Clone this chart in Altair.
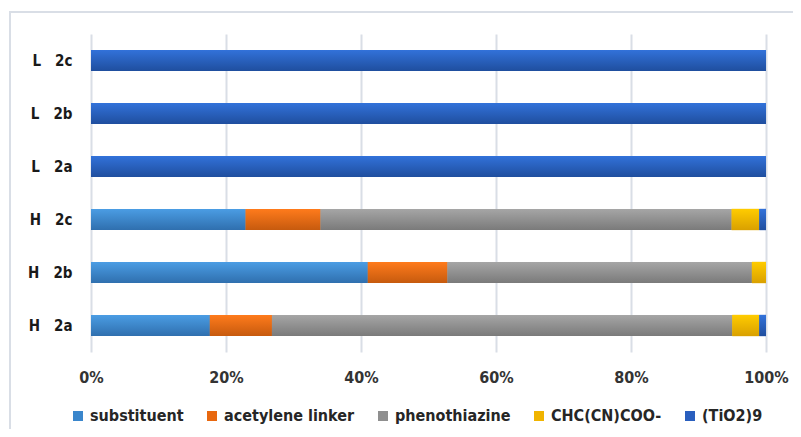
import altair as alt
import pandas as pd

NB = "\u00a0"
categories = [f"L{NB*3}2c", f"L{NB*3}2b", f"L{NB*3}2a", f"H{NB*3}2c", f"H{NB*3}2b", f"H{NB*3}2a"]
series = ["substituent", "acetylene linker", "phenothiazine", "CHC(CN)COO-", "(TiO2)9"]

substituent = [0, 0, 0, 22.9, 41.0, 17.6]
acetylene = [0, 0, 0, 11.1, 11.8, 9.2]
phenothiazine = [0, 0, 0, 60.9, 45.1, 68.2]
chc = [0, 0, 0, 4.1, 2.1, 4.0]
tio2 = [100, 100, 100, 1.0, 0, 1.0]

flat_colors = ["#3A86CC", "#E8680F", "#8F8F8F", "#F0B400", "#2A5FBE"]
grad_top = ["#4B9DE4", "#FF7B1C", "#A6A6A6", "#FFCC00", "#3272DA"]
grad_bot = ["#2F6FAE", "#C65A0E", "#7A7A7A", "#D9A000", "#1F4E9E"]

rows = []
for vals, s, o in zip([substituent, acetylene, phenothiazine, chc, tio2], series, range(5)):
    for c, v in zip(categories, vals):
        rows.append({"cat": c, "series": s, "order": o, "value": v})
df = pd.DataFrame(rows)

FONT = "DejaVu Sans Condensed"

x_enc = alt.X(
    "x0:Q",
    scale=alt.Scale(domain=[0, 1], nice=False),
    axis=alt.Axis(
        values=[0, 0.2, 0.4, 0.6, 0.8, 1], format="%", title=None, grid=True,
        gridColor="#D9DEE6", gridWidth=2, domain=False, ticks=False,
        labelFontSize=16, labelFont=FONT, labelFontWeight="bold",
        labelColor="#333333", labelPadding=17, labelFlush=False,
    ),
)
y_enc = alt.Y(
    "cat:N", sort=categories,
    scale=alt.Scale(paddingInner=0.6, paddingOuter=0.3),
    axis=alt.Axis(
        title=None, domain=False, ticks=False, grid=False,
        labelFontSize=15, labelFont=FONT, labelFontWeight="bold",
        labelColor="#1a1a1a", labelPadding=19,
    ),
)

base = alt.Chart(df).transform_stack(
    stack="value", groupby=["cat"], as_=["x0", "x1"], offset="normalize",
    sort=[alt.SortField("order", order="ascending")],
)

frame = alt.Chart(alt.Data(values=[{}])).mark_rect(
    filled=False, stroke="#D9DEE6", strokeWidth=2
).encode(x=alt.value(-81), x2=alt.value(720), y=alt.value(-22), y2=alt.value(420))

legend_layer = base.mark_bar().encode(
    y=y_enc, x=x_enc, x2="x1:Q",
    color=alt.Color(
        "series:N",
        scale=alt.Scale(domain=series, range=flat_colors),
        legend=alt.Legend(
            title=None, orient="none", direction="horizontal", columns=5,
            legendX=-21, legendY=374, symbolType="square", symbolSize=100,
            symbolStrokeWidth=0, labelFontSize=16, labelFont=FONT,
            labelFontWeight="bold", labelColor="#262626", labelOffset=4,
            columnPadding=20, symbolOpacity=1,
        ),
    ),
)

layers = [frame, legend_layer]
for s, t, b in zip(series, grad_top, grad_bot):
    grad = alt.LinearGradient(
        gradient="linear",
        stops=[alt.GradientStop(color=t, offset=0), alt.GradientStop(color=b, offset=1)],
        x1=0, x2=0, y1=0, y2=1,
    )
    layers.append(
        base.transform_filter(alt.datum.series == s)
        .mark_bar(fill=grad)
        .encode(y=y_enc, x=x_enc, x2="x1:Q")
    )

chart = alt.layer(*layers).properties(
    width=675, height=318,
    autosize=alt.AutoSizeParams(type="none"),
    padding={"left": 83, "top": 26, "right": 27, "bottom": 77},
).configure_view(stroke=None)

chart.save("out.html", embed_options={"renderer": "svg", "actions": False})
